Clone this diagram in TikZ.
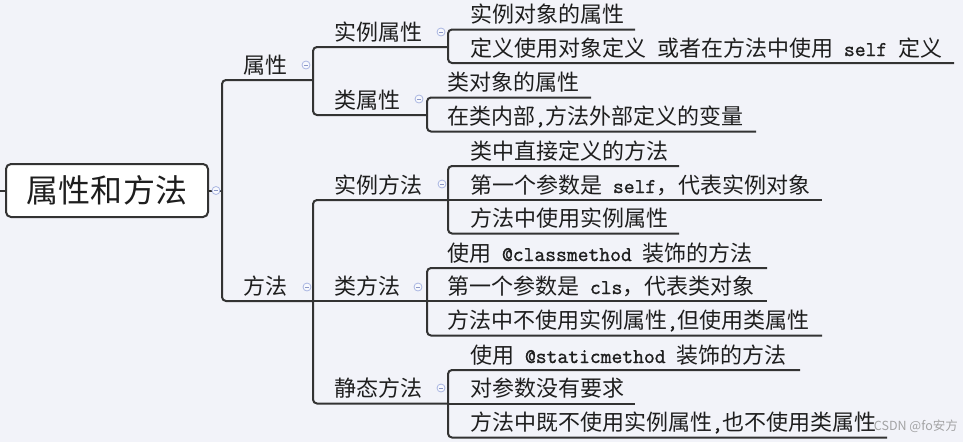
\documentclass[tikz,border=0pt]{standalone}
\usepackage{fontspec}
\setmainfont{Noto Sans CJK SC}
\newfontfamily\codefont{Latin Modern Mono}[FakeBold=1.2]
\newcommand\code[1]{{\fontsize{21pt}{22pt}\codefont #1}}
\newcommand\hs{\hspace{11pt}}
\definecolor{bg}{RGB}{242,243,249}
\definecolor{ln}{RGB}{51,51,51}
\definecolor{txt}{RGB}{30,30,30}
\definecolor{icon}{RGB}{170,182,226}
\definecolor{iconbg}{RGB}{248,249,253}
\definecolor{iconm}{RGB}{140,152,200}
\definecolor{wm}{RGB}{150,150,150}
\tikzset{
  lbl/.style={anchor=base west, inner sep=0pt, outer sep=0pt, font=\fontsize{22pt}{26pt}\selectfont, text=txt},
  conn/.style={line width=2pt, draw=ln, rounded corners=4pt},
  rootbox/.style={draw=ln, line width=2pt, fill=white, rounded corners=5pt, minimum width=202pt, minimum height=53pt, inner sep=0pt, outer sep=0pt, font=\fontsize{32pt}{36pt}\selectfont, text=txt},
  collapse/.pic={\draw[line width=0.8pt, draw=icon, fill=iconbg] (0,0) circle (4pt); \draw[line width=0.8pt, draw=iconm] (-2.2pt,0) -- (2.2pt,0);}
}
\begin{document}
\begin{tikzpicture}[x=1pt,y=-1pt]
\fill[bg] (0,0) rectangle (963,442);
\useasboundingbox (0,0) rectangle (963,442);

% root
\node[rootbox] (root) at (107,190.5) {属性和方法};
\coordinate (stub) at (0,190.5);
\coordinate (tm) at (222,190.5);
\draw[conn] (stub) -- (root.west);
\draw[conn] (root.east) -- (tm);

% level 2
\node[lbl] (sx) at (243,73) {属性};
\node[lbl] (ff) at (243,294) {方法};
\coordinate (sx-e) at (313,80);
\coordinate (ff-e) at (313,301);
\coordinate (t1) at (222,80);
\coordinate (t2) at (222,301);
\draw[conn] (sx-e) -- (t1) -- (t2) -- (ff-e);

% level 3 under 属性
\node[lbl] (slsx) at (334,40) {实例属性};
\node[lbl] (lsx) at (334,108) {类属性};
\coordinate (slsx-e) at (448,47);
\coordinate (lsx-e) at (427,115);
\coordinate (b1) at (313,47);
\coordinate (b2) at (313,115);
\draw[conn] (slsx-e) -- (b1) -- (b2) -- (lsx-e);

% leaves of 实例属性
\node[lbl] (a1) at (470,22.5) {实例对象的属性};
\node[lbl] (a2) at (470,56) {定义使用对象定义\hs 或者在方法中使用\hs\code{self}\hs 定义};
\coordinate (a1-e) at (635,29.5);
\coordinate (a2-e) at (954,63);
\coordinate (ca1) at (448,29.5);
\coordinate (ca2) at (448,63);
\draw[conn] (a1-e) -- (ca1) -- (ca2) -- (a2-e);

% leaves of 类属性
\node[lbl] (b1n) at (447,90.5) {类对象的属性};
\node[lbl] (b2n) at (447,124.5) {在类内部\code{,}方法外部定义的变量};
\coordinate (b1-e) at (591,97.5);
\coordinate (b2-e) at (756,131.5);
\coordinate (cb1) at (427,97.5);
\coordinate (cb2) at (427,131.5);
\draw[conn] (b1-e) -- (cb1) -- (cb2) -- (b2-e);

% level 3 under 方法
\node[lbl] (slff) at (334,193) {实例方法};
\node[lbl] (lff) at (334,294) {类方法};
\node[lbl] (jtff) at (334,396.5) {静态方法};
\coordinate (slff-e) at (448,200);
\coordinate (lff-e) at (427,301);
\coordinate (jtff-e) at (448,403.5);
\coordinate (m1) at (313,200);
\coordinate (m2) at (313,403.5);
\draw[conn] (slff-e) -- (m1) -- (m2) -- (jtff-e);
\draw[conn] (ff-e) -- (lff-e);

% leaves of 实例方法
\node[lbl] (c1) at (470,159) {类中直接定义的方法};
\node[lbl] (c2) at (470,193) {第一个参数是\hs\code{self}，代表实例对象};
\node[lbl] (c3) at (470,226.5) {方法中使用实例属性};
\coordinate (c1-e) at (679,166);
\coordinate (c2-e) at (822,200);
\coordinate (c3-e) at (679,233.5);
\coordinate (cc1) at (448,166);
\coordinate (cc3) at (448,233.5);
\draw[conn] (c1-e) -- (cc1) -- (cc3) -- (c3-e);
\draw[conn] (slff-e) -- (c2-e);

% leaves of 类方法
\node[lbl] (d1) at (447,261) {使用\hs\code{@classmethod}\hs 装饰的方法};
\node[lbl] (d2) at (447,294) {第一个参数是\hs\code{cls}，代表类对象};
\node[lbl] (d3) at (447,328.5) {方法中不使用实例属性\code{,}但使用类属性};
\coordinate (d1-e) at (767,268);
\coordinate (d2-e) at (767,301);
\coordinate (d3-e) at (822,335.5);
\coordinate (cd1) at (427,268);
\coordinate (cd3) at (427,335.5);
\draw[conn] (d1-e) -- (cd1) -- (cd3) -- (d3-e);
\draw[conn] (lff-e) -- (d2-e);

% leaves of 静态方法
\node[lbl] (e1) at (470,363) {使用\hs\code{@staticmethod}\hs 装饰的方法};
\node[lbl] (e2) at (470,396.5) {对参数没有要求};
\node[lbl] (e3) at (470,430.5) {方法中既不使用实例属性\code{,}也不使用类属性};
\coordinate (e1-e) at (800,370);
\coordinate (e2-e) at (635,403.5);
\coordinate (e3-e) at (887,437.5);
\coordinate (ce1) at (448,370);
\coordinate (ce3) at (448,437.5);
\draw[conn] (e1-e) -- (ce1) -- (ce3) -- (e3-e);
\draw[conn] (jtff-e) -- (e2-e);

% collapse icons
\pic at (216,190.5) {collapse};
\pic at (306,65) {collapse};
\pic at (307,287) {collapse};
\pic at (441,32) {collapse};
\pic at (419,99) {collapse};
\pic at (442,184) {collapse};
\pic at (418,287) {collapse};
\pic at (441,388) {collapse};

% watermark
\node[anchor=east, inner sep=0pt, font=\fontsize{12.5pt}{14pt}\selectfont, text=wm, text opacity=0.85] (wmk) at (958,426) {CSDN @fo安方};
\end{tikzpicture}
\end{document}
